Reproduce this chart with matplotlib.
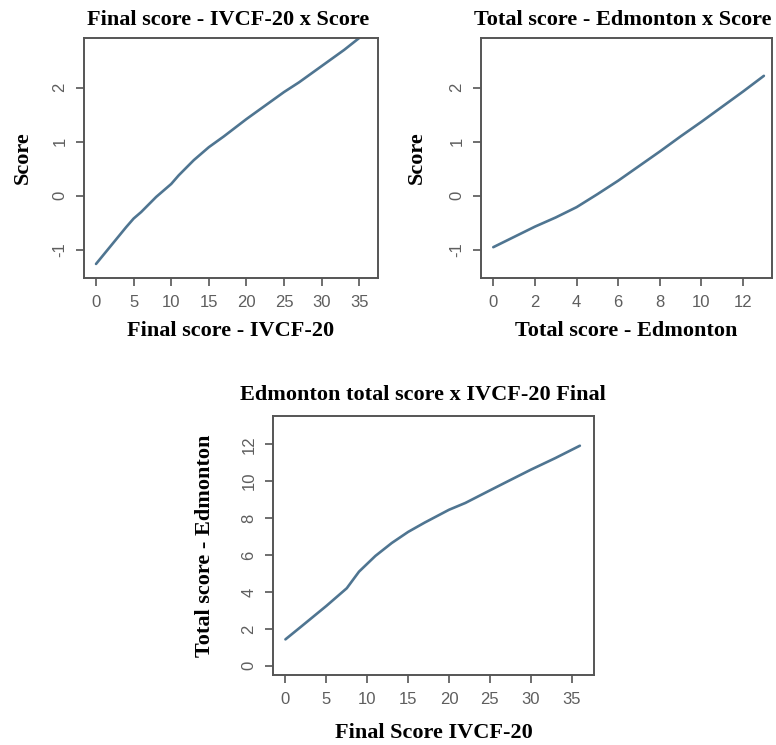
import matplotlib
matplotlib.use("Agg")
import matplotlib.pyplot as plt

plt.rcParams["axes.unicode_minus"] = False

# Panel 1: Final score IVCF-20 vs Score
p1_x = [0, 2, 4, 5, 6, 8, 10, 11, 13, 15, 17, 20, 22, 25, 27, 30, 33, 35]
p1_y = [-1.26, -0.92, -0.58, -0.42, -0.30, -0.02, 0.22, 0.38, 0.66, 0.90, 1.10, 1.42, 1.62, 1.92, 2.10, 2.40, 2.70, 2.92]

# Panel 2: Total score Edmonton vs Score
p2_x = [0, 1, 2, 3, 4, 5, 6, 7, 8, 9, 10, 11, 12, 13]
p2_y = [-0.95, -0.76, -0.57, -0.40, -0.21, 0.03, 0.28, 0.55, 0.82, 1.10, 1.37, 1.65, 1.93, 2.22]

# Panel 3: Final Score IVCF-20 vs Total score Edmonton
p3_x = [0, 2, 5, 7.5, 9, 11, 13, 15, 17, 20, 22, 25, 27, 30, 33, 36]
p3_y = [1.43, 2.15, 3.24, 4.2, 5.1, 5.95, 6.65, 7.25, 7.75, 8.45, 8.82, 9.5, 9.95, 10.62, 11.25, 11.92]

titles = ["Final score - IVCF-20 x Score", "Total score - Edmonton x Score",
          "Edmonton total score x IVCF-20 Final"]
xlabels = ["Final score - IVCF-20", "Total score - Edmonton", "Final Score IVCF-20"]
ylabels = ["Score", "Score", "Total score - Edmonton"]
p1_xticks = [0, 5, 10, 15, 20, 25, 30, 35]
p2_xticks = [0, 2, 4, 6, 8, 10, 12]
p3_xticks = [0, 5, 10, 15, 20, 25, 30, 35]
score_yticks = [-1, 0, 1, 2]
p3_yticks = [0, 2, 4, 6, 8, 10, 12]

W, H = 776, 745
fig = plt.figure(figsize=(W / 100, H / 100), dpi=100)

def rect(l, t, r, b):
    return [l / W, 1 - b / H, (r - l) / W, (b - t) / H]

LINE = "#4f7591"
BOX = "#555555"
TICKC = "#5e5e5e"
serif = "Liberation Serif"
sans = "Liberation Sans"

def style(ax, x, y, xt, yt, xlim, ylim, title, xl, yl, title_xy, xl_y, yl_x):
    ax.plot(x, y, color=LINE, lw=1.9, solid_capstyle="round")
    ax.set_xlim(*xlim)
    ax.set_ylim(*ylim)
    ax.set_xticks(xt)
    ax.set_yticks(yt)
    for s in ax.spines.values():
        s.set_color(BOX)
        s.set_linewidth(1.4)
    ax.tick_params(direction="out", length=6, width=1.2, color=BOX,
                   labelcolor=TICKC, labelsize=12, pad=6)
    for lab in ax.get_xticklabels() + ax.get_yticklabels():
        lab.set_fontfamily(sans)
    for lab in ax.get_yticklabels():
        lab.set_rotation(90)
        lab.set_va("center")
    bb = ax.get_position()
    cx = (bb.x0 + bb.x1) / 2
    cy = (bb.y0 + bb.y1) / 2
    fig.text(title_xy[0] / W, 1 - title_xy[1] / H, title, ha="center", va="center",
             fontfamily=serif, fontweight="bold", fontsize=16)
    fig.text(cx, 1 - xl_y / H, xl, ha="center", va="center",
             fontfamily=serif, fontweight="bold", fontsize=16)
    fig.text(yl_x / W, cy, yl, ha="center", va="center", rotation=90,
             fontfamily=serif, fontweight="bold", fontsize=16)

ax1 = fig.add_axes(rect(84, 38, 378, 278))
style(ax1, p1_x, p1_y, p1_xticks, score_yticks, (-1.6, 37.5), (-1.52, 2.92),
      titles[0], xlabels[0], ylabels[0], (228, 20), 331, 23)

ax2 = fig.add_axes(rect(481, 38, 772, 278))
style(ax2, p2_x, p2_y, p2_xticks, score_yticks, (-0.59, 13.39), (-1.52, 2.92),
      titles[1], xlabels[1], ylabels[1], (623, 20), 331, 417)

ax3 = fig.add_axes(rect(273, 416, 594, 675))
style(ax3, p3_x, p3_y, p3_xticks, p3_yticks, (-1.52, 37.73), (-0.5, 13.53),
      titles[2], xlabels[2], ylabels[2], (423, 395), 733, 205)

fig.savefig("out.png", dpi=100)
